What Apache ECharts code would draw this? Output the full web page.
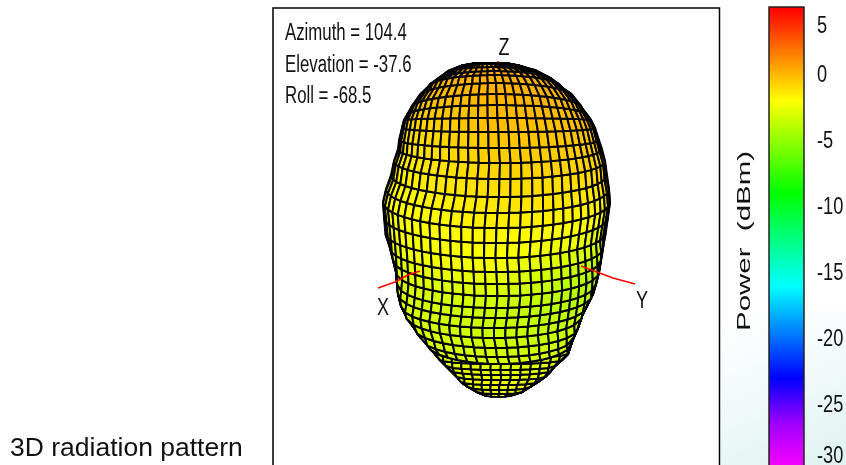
<!DOCTYPE html>
<html><head><meta charset="utf-8">
<style>html,body{margin:0;padding:0;background:#fff;overflow:hidden}#c{width:846px;height:465px}</style>
<script src="https://cdn.jsdelivr.net/npm/echarts@6/dist/echarts.min.js"></script>
</head><body><div id="c"></div>
<script>
// Pattern rings, top pole to bottom pole (axis units: x right of the Z axis, y above the origin)
const ringHeight = [237,237,236,233,229,225,217,206,195,182,168,152,137,121,103,87,72,57,42,28,16,4,-8,-18,-28,-38,-48,-57,-64,-58,-64,-70,-75,-80,-85,-90,-94,-97];
const ringSag    = [0,1,2,5,9,12,14,14,10,2,-4,-8,-14,-18,-22,-24,-26,-26,-26,-24,-24,-24,-24,-24,-22,-22,-20,-20,-22,-4,-4,-4,-4,-3,-3,-3,-2,-1];
const ringLeft   = [-6,-28,-39,-53,-63,-72,-81,-89,-93,-96,-98,-101,-102,-106,-109,-114,-117,-116,-115,-110,-107,-104,-103,-102,-99,-94,-86,-80,-74,-65,-60,-54,-49,-43,-39,-32,-23,-13];
const ringRight  = [4,10,20,38,52,61,73,82,87,91,95,99,102,105,107,109,110,108,106,103,101,99,96,93,87,82,78,74,72,68,62,55,51,45,38,30,22,9];
// Radius each ring would have if the limb did not cut it off
const ringReach  = [5,19,35,50,62,70,77,86,90,94,97,100,102,106,108,112,114,112,110,110,110,110,110,110,110,108,106,104,102,100,98,96,94,90,86,82,76,66];
// Power in dBm on each ring: at the left limb, down the centre, at the right limb
const powerLeft   = [0.6,0.6,0.6,0.5,0.3,0.1,-0.2,-0.4,-0.7,-0.9,-1.1,-1.3,-1.5,-1.6,-1.8,-2,-2.1,-2.3,-2.4,-2.6,-2.8,-2.9,-3,-3,-3,-3,-3,-2.9,-2.9,-2.9,-2.8,-2.7,-2.6,-2.5,-2.4,-2.3,-2.2,-2.2];
const powerCenter = [0.5,0.5,0.5,0.4,0.3,0.2,0.2,0.1,0,-0.1,-0.3,-0.5,-0.7,-0.9,-1.2,-1.4,-1.6,-1.9,-2.1,-2.4,-2.8,-3.1,-3.4,-3.5,-3.5,-3.4,-3.3,-3.2,-3.1,-3,-2.9,-2.8,-2.7,-2.5,-2.4,-2.3,-2.2,-2.1];
const powerRight  = [0.5,0.5,0.5,0.4,0.3,0.2,0.1,0,-0.1,-0.2,-0.3,-0.5,-0.7,-0.9,-1.2,-1.5,-1.9,-2.5,-3.1,-3.7,-4.2,-4.4,-4.2,-4,-3.8,-3.6,-3.5,-3.3,-3.2,-3.1,-3,-2.9,-2.8,-2.6,-2.5,-2.4,-2.3,-2.2];
const meridianCount = 30;
// Body axes, red
const axisX = [[-122,12],[-105,18],[-92,25],[-80,29]];
const axisY = [[81,34],[113,22],[135,16]];
const axisZ = [[-2,238],[-2,239]];
const readout = ['Azimuth = 104.4','Elevation = -37.6','Roll = -68.5'];
// Colour bar, stops from -30 to 5 dBm
const barMin = -30, barMax = 5;
const barColors = ['#ff00ff','#a200ff','#0000ff','#0080ff','#00ffff','#00ff80','#00ff00','#80ff00','#ffff00','#ff8000','#ff0000'];
const barTicks = ['5','0','-5','-10','-15','-20','-25','-30'];
const barTickPlace = [3.65,0,-5,-10,-15,-20,-25,-28.8];
const barTitle = 'Power  (dBm)';
const chartTitle = '3D radiation pattern';

const cells = [];
for (let r = ringHeight.length - 2; r >= 0; r--) {
  for (let m = 0; m < meridianCount; m++) {
    const t = (m + 0.5) / meridianCount * 2 - 1;
    const w = Math.abs(Math.sin(t * Math.PI / 2));
    const side = t < 0 ? powerLeft : powerRight;
    const p = (a) => powerCenter[a] + (side[a] - powerCenter[a]) * w;
    cells.push([r, m, (p(r) + p(r + 1)) / 2]);
  }
}
const barStep = 0.1;
const barCells = [];
for (let i = 0; i < (barMax - barMin) / barStep; i++) barCells.push([0, barMin + i * barStep, barMin + (i + 0.5) * barStep]);

function meshPoint(r, m) {
  const a = (m / meridianCount * 2 - 1) * Math.PI / 2;
  const c = (ringLeft[r] + ringRight[r]) / 2, h = (ringRight[r] - ringLeft[r]) / 2;
  const u = Math.max(-h, Math.min(h, ringReach[r] * Math.sin(a)));
  const f = u / h;
  return [c + u, ringHeight[r] - ringSag[r] * (1 - Math.sqrt(Math.max(0, 1 - f * f)))];
}
const sans = '"Liberation Sans",sans-serif';
const chart = echarts.init(document.getElementById('c'), null, {renderer: 'canvas'});
chart.setOption({
  animation: false,
  backgroundColor: '#fff',
  grid: [
    {left: 273, top: 8, width: 446.5, height: 470, outerBoundsMode: 'none', show: true, backgroundColor: '#fff', borderColor: '#000', borderWidth: 1.5},
    {left: 769, top: 7, width: 35, height: 463, outerBoundsMode: 'none', show: true, borderColor: '#222', borderWidth: 1.5, z: 5}
  ],
  xAxis: [
    {gridIndex: 0, type: 'value', min: -227, max: 219.5, show: false},
    {gridIndex: 1, type: 'value', min: 0, max: 1, show: false}
  ],
  yAxis: [
    {gridIndex: 0, type: 'value', min: -178, max: 292, show: false},
    {gridIndex: 1, type: 'value', min: barMin, max: barMax, show: false}
  ],
  visualMap: {show: false, type: 'continuous', min: barMin, max: barMax, dimension: 2, seriesIndex: [0, 1], inRange: {color: barColors}},
  series: [
    {type: 'custom', xAxisIndex: 1, yAxisIndex: 1, data: barCells, clip: true, silent: true,
     renderItem: (p, api) => {
       const a = api.coord([0, api.value(1)]), b = api.coord([1, api.value(1) + barStep]);
       return {type: 'rect', shape: {x: a[0], y: b[1], width: b[0] - a[0], height: a[1] - b[1] + 1}, style: {fill: api.visual('color')}};
     }},
    {type: 'custom', xAxisIndex: 0, yAxisIndex: 0, data: cells, clip: true, silent: true, z: 3,
     renderItem: (p, api) => {
       const r = api.value(0), m = api.value(1);
       const pts = [meshPoint(r, m), meshPoint(r, m + 1), meshPoint(r + 1, m + 1), meshPoint(r + 1, m)].map(q => api.coord(q));
       return {type: 'polygon', shape: {points: pts}, style: {fill: api.visual('color'), stroke: '#000', lineWidth: 2, lineJoin: 'round'}};
     }},
    {type: 'custom', xAxisIndex: 1, yAxisIndex: 1, data: barTickPlace.map((v, i) => [i, v]), clip: false, silent: true, z: 6,
     renderItem: (p, api) => {
       const a = api.coord([1, api.value(1)]);
       return {type: 'text', x: a[0] + 13, y: a[1] + 2, scaleX: 0.76, style: {text: barTicks[api.value(0)], font: '24px ' + sans, fill: '#111', verticalAlign: 'middle'}};
     }},
    ...[axisX, axisY, axisZ].map(d => ({type: 'line', xAxisIndex: 0, yAxisIndex: 0, data: d, showSymbol: false, smooth: false, z: 4, silent: true,
      lineStyle: {color: '#f00', width: 1.5}}))
  ],
  graphic: [
    {type: 'rect', z: -10, silent: true, shape: {x: 721, y: 310, width: 125, height: 155},
     style: {fill: new echarts.graphic.LinearGradient(0.2, 0, 0.7, 1, [{offset: 0, color: '#ffffff'}, {offset: 0.3, color: '#f7fcfc'}, {offset: 1, color: '#e1f4f2'}])}},
    {type: 'text', x: 10, y: 449, style: {text: chartTitle, font: '26.5px ' + sans, fill: '#111', verticalAlign: 'middle'}},
    ...readout.map((t, i) => ({type: 'text', x: 285, y: [34, 66, 97][i], scaleX: 0.73, z: 10, style: {text: t, font: '23px ' + sans, fill: '#111', verticalAlign: 'middle'}})),
    {type: 'text', x: 383, y: 308, z: 10, scaleX: 0.75, style: {text: 'X', font: '24px ' + sans, fill: '#111', align: 'center', verticalAlign: 'middle'}},
    {type: 'text', x: 642, y: 301, z: 10, scaleX: 0.75, style: {text: 'Y', font: '24px ' + sans, fill: '#111', align: 'center', verticalAlign: 'middle'}},
    {type: 'text', x: 504, y: 48, z: 10, scaleX: 0.75, style: {text: 'Z', font: '24px ' + sans, fill: '#111', align: 'center', verticalAlign: 'middle'}},
    {type: 'text', x: 745, y: 241, z: 10, rotation: Math.PI / 2, scaleX: 1.55, style: {text: barTitle, font: '19px ' + sans, fill: '#111', align: 'center', verticalAlign: 'middle'}}
  ]
});
</script></body></html>
